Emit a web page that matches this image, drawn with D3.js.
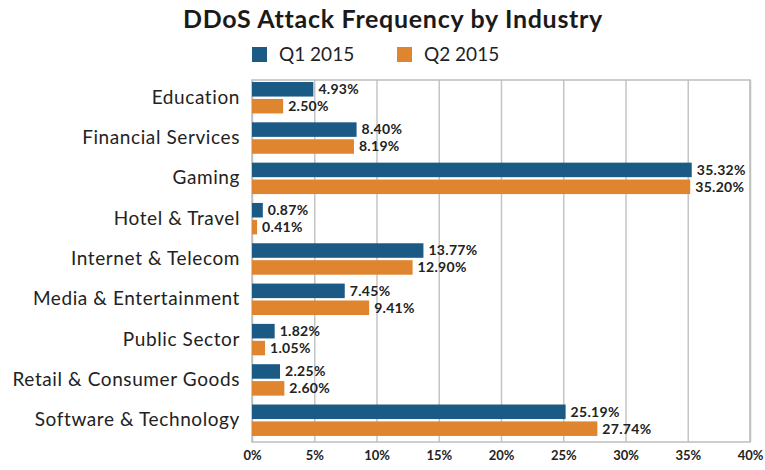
<!DOCTYPE html>
<html>
<head>
<meta charset="utf-8">
<script src="https://cdn.jsdelivr.net/npm/d3@7"></script>
<style>
  html, body { margin: 0; padding: 0; background: #fff; }
  svg { display: block; }
</style>
</head>
<body>
<svg id="chart" width="765" height="470"></svg>
<script>
// Share of DDoS attacks per industry, Q1 vs Q2 2015 (percent)
const industries = [
  "Education", "Financial Services", "Gaming", "Hotel & Travel",
  "Internet & Telecom", "Media & Entertainment", "Public Sector",
  "Retail & Consumer Goods", "Software & Technology"
];
const q1Values = [4.93, 8.40, 35.32, 0.87, 13.77, 7.45, 1.82, 2.25, 25.19];
const q2Values = [2.50, 8.19, 35.20, 0.41, 12.90, 9.41, 1.05, 2.60, 27.74];
const seriesNames = ["Q1 2015", "Q2 2015"];
const xTicks = [0, 5, 10, 15, 20, 25, 30, 35, 40];

const colors = { "Q1 2015": "#1c5a86", "Q2 2015": "#e0852f" };
const series = [
  { name: seriesNames[0], values: q1Values },
  { name: seriesNames[1], values: q2Values }
];

const svg = d3.select("#chart");
const font = "Lato, 'Open Sans', sans-serif";
const plot = { left: 252, right: 750, top: 80, bottom: 442 };

const x = d3.scaleLinear().domain([0, 40]).range([plot.left, plot.right]);
const y = d3.scaleBand().domain(industries)
  .range([plot.top, plot.bottom])
  .paddingInner(0.22).paddingOuter(0.1).align(0.25);
const ySub = d3.scaleBand().domain(seriesNames)
  .range([0, y.bandwidth()]).paddingInner(0.14);

// Title
svg.append("text")
  .attr("x", 393).attr("y", 28)
  .attr("text-anchor", "middle")
  .attr("font-family", font).attr("font-weight", 700)
  .attr("font-size", 25).attr("letter-spacing", 0.7)
  .attr("fill", "#1a1a1a")
  .text("DDoS Attack Frequency by Industry");

// Legend
const legendX = [252, 397];
const legend = svg.append("g");
seriesNames.forEach((name, i) => {
  legend.append("rect")
    .attr("x", legendX[i]).attr("y", 47)
    .attr("width", 15).attr("height", 15)
    .attr("fill", colors[name]);
  legend.append("text")
    .attr("x", legendX[i] + 27).attr("y", 61)
    .attr("font-family", font).attr("font-size", 19)
    .attr("fill", "#222")
    .text(name);
});

// Grid and x axis
const xAxis = d3.axisBottom(x)
  .tickValues(xTicks)
  .tickSize(-(plot.bottom - plot.top))
  .tickPadding(9)
  .tickFormat(d => d + "%");
const gx = svg.append("g")
  .attr("transform", `translate(0,${plot.bottom})`)
  .call(xAxis);
gx.select(".domain").remove();
gx.selectAll(".tick line").attr("stroke", "#c4c4c4").attr("stroke-width", 1.5);
gx.selectAll(".tick text")
  .attr("font-family", font).attr("font-weight", 700)
  .attr("font-size", 13).attr("fill", "#222");

// Plot frame
svg.append("rect")
  .attr("x", plot.left).attr("y", plot.top)
  .attr("width", plot.right - plot.left).attr("height", plot.bottom - plot.top)
  .attr("fill", "none").attr("stroke", "#bdbdbd").attr("stroke-width", 1.5);

// Category labels
const yAxis = d3.axisLeft(y).tickSize(0).tickPadding(12);
const gy = svg.append("g")
  .attr("transform", `translate(${plot.left},0)`)
  .call(yAxis);
gy.select(".domain").remove();
gy.selectAll(".tick text")
  .attr("font-family", font).attr("font-size", 19)
  .attr("letter-spacing", 0.6)
  .attr("fill", "#222");

// Bars and value labels
const groups = svg.append("g").selectAll("g")
  .data(series).join("g")
  .attr("fill", d => colors[d.name]);

groups.selectAll("rect")
  .data(d => d.values.map((v, i) => ({ name: d.name, cat: industries[i], v })))
  .join("rect")
  .attr("x", x(0))
  .attr("y", d => y(d.cat) + ySub(d.name))
  .attr("width", d => x(d.v) - x(0))
  .attr("height", ySub.bandwidth());

svg.append("g").selectAll("text")
  .data(series.flatMap(s => s.values.map((v, i) => ({ name: s.name, cat: industries[i], v }))))
  .join("text")
  .attr("x", d => x(d.v) + 5)
  .attr("y", d => y(d.cat) + ySub(d.name) + ySub.bandwidth() / 2)
  .attr("dy", "0.35em")
  .attr("font-family", font).attr("font-weight", 700)
  .attr("font-size", 14).attr("letter-spacing", 0.3)
  .attr("fill", "#222")
  .text(d => d.v.toFixed(2) + "%");
</script>
</body>
</html>
